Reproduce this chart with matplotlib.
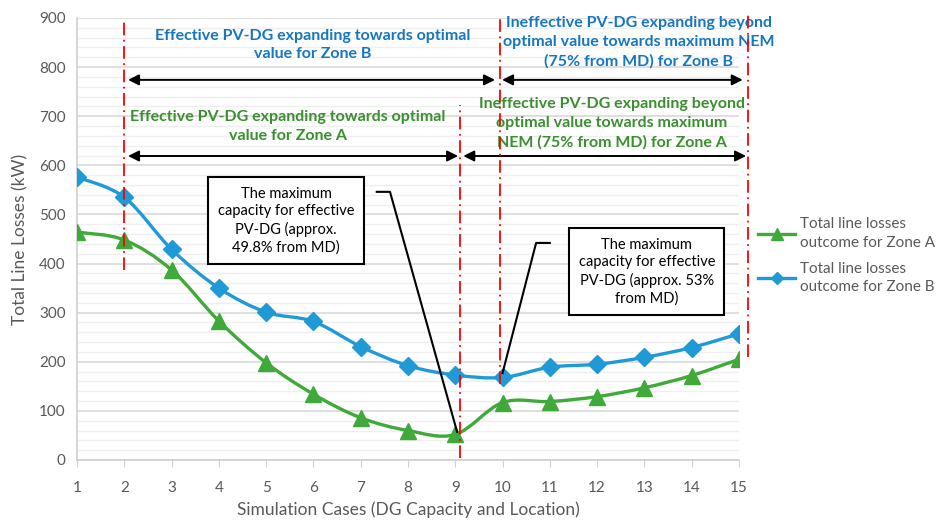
import numpy as np
import matplotlib
matplotlib.use("Agg")
import matplotlib.pyplot as plt
from matplotlib.path import Path
from matplotlib.patches import PathPatch
from matplotlib.lines import Line2D

plt.rcParams['font.family'] = ['Lato', 'DejaVu Sans']

# data
cases = list(range(1, 16))
zone_a = [464, 448, 387, 283, 198, 134, 86, 60, 52, 117, 119, 129, 147, 172, 205]
zone_b = [576, 535, 429, 350, 301, 282, 231, 192, 173, 168, 189, 195, 209, 229, 257]

label_a = "Total line losses\noutcome for Zone A"
label_b = "Total line losses\noutcome for Zone B"

GREEN = '#3FA93A'
BLUE = '#1F9AD6'
GREEN_TXT = '#3A8F2E'
BLUE_TXT = '#1677BF'
GRAY = '#595959'


def smooth_path(x, y):
    # excel-like smoothed line: cubic bezier segments (catmull-rom control points)
    pts = np.column_stack([x, y]).astype(float)
    n = len(pts)
    verts = [pts[0]]
    codes = [Path.MOVETO]
    for i in range(n - 1):
        p0 = pts[i - 1] if i > 0 else pts[i]
        p1 = pts[i]
        p2 = pts[i + 1]
        p3 = pts[i + 2] if i + 2 < n else pts[i + 1]
        c1 = p1 + (p2 - p0) / 6.0
        c2 = p2 - (p3 - p1) / 6.0
        verts += [c1, c2, p2]
        codes += [Path.CURVE4] * 3
    return Path(verts, codes)


fig = plt.figure(figsize=(9.41, 5.2), dpi=100)
ax = fig.add_axes([0.0818, 0.1154, 0.7035, 0.85])

ax.set_xlim(1, 15)
ax.set_ylim(0, 900)
ax.set_xticks(cases)
ax.set_yticks(range(0, 901, 100))
ax.set_yticks(range(0, 901, 20), minor=True)
ax.grid(which='major', axis='y', color='#d9d9d9', lw=1.2)
ax.grid(which='minor', axis='y', color='#efefef', lw=1.0)
ax.set_axisbelow(True)
for s in ['top', 'right']:
    ax.spines[s].set_visible(False)
for s in ['left', 'bottom']:
    ax.spines[s].set_color('#d0d0d0')
    ax.spines[s].set_linewidth(1.2)
ax.tick_params(axis='y', which='both', length=0, labelsize=11, labelcolor=GRAY, pad=8)
ax.tick_params(axis='x', which='major', length=5, color='#d0d0d0', labelsize=11,
               labelcolor=GRAY, pad=10)
ax.tick_params(axis='x', which='minor', length=0)
ax.set_xlabel("Simulation Cases (DG Capacity and Location)", fontsize=12.5, color=GRAY, labelpad=5)
ax.set_ylabel("Total Line Losses (kW)", fontsize=12.5, color=GRAY, labelpad=8)

# smoothed series
ax.add_patch(PathPatch(smooth_path(cases, zone_a), fill=False, edgecolor=GREEN, lw=2.4, zorder=3))
ax.add_patch(PathPatch(smooth_path(cases, zone_b), fill=False, edgecolor=BLUE, lw=2.4, zorder=3))
ax.plot(cases, zone_a, ls='none', marker='^', ms=11, color=GREEN, zorder=4)
ax.plot(cases, zone_b, ls='none', marker='D', ms=9, color=BLUE, zorder=4)

# red dash-dot boundaries
for xv, y0, y1 in [(2, 387, 892), (9.1, 5, 723), (9.94, 155, 898), (15.19, 210, 910)]:
    ax.plot([xv, xv], [y0, y1], color='red', lw=1.3, ls=(0, (7, 2.5, 1, 2.5)),
            clip_on=False, zorder=5)

# range arrows
arrow = dict(arrowstyle='<|-|>', color='black', lw=1.4, mutation_scale=16, shrinkA=0, shrinkB=0)
ax.annotate('', xy=(2.08, 774), xytext=(9.84, 774), arrowprops=arrow, annotation_clip=False)
ax.annotate('', xy=(9.99, 774), xytext=(15.08, 774), arrowprops=arrow, annotation_clip=False)
ax.annotate('', xy=(2.08, 619), xytext=(9.06, 619), arrowprops=arrow, annotation_clip=False)
ax.annotate('', xy=(9.17, 619), xytext=(15.15, 619), arrowprops=arrow, annotation_clip=False)

# region captions
cap = dict(ha='center', va='center', fontsize=11.5, fontweight='bold', linespacing=1.45,
           clip_on=False)
ax.text(5.98, 845, "Effective PV-DG expanding towards optimal\nvalue for Zone B",
        color=BLUE_TXT, **cap)
ax.text(5.46, 680, "Effective PV-DG expanding towards optimal\nvalue for Zone A",
        color=GREEN_TXT, **cap)
ax.text(12.88, 851, "Ineffective PV-DG expanding beyond\noptimal value towards maximum NEM\n(75% from MD) for Zone B",
        color=BLUE_TXT, **cap)
ax.text(12.31, 686, "Ineffective PV-DG expanding beyond\noptimal value towards maximum\nNEM (75% from MD) for Zone A",
        color=GREEN_TXT, **cap)

# call-out boxes with leader lines
ax.plot([7.34, 7.62, 9.04], [546, 546, 57], color='black', lw=1.5, zorder=6)
ax.plot([11.0, 10.71, 10.0], [442, 442, 177], color='black', lw=1.5, zorder=6)
box = dict(boxstyle='square,pad=0.65', fc='white', ec='black', lw=1.5)
ax.text(5.42, 487, "The maximum\ncapacity for effective\nPV-DG (approx.\n49.8% from MD)",
        ha='center', va='center', fontsize=10.5, color='black', bbox=box, linespacing=1.3, zorder=7)
ax.text(13.05, 384, "The maximum\ncapacity for effective\nPV-DG (approx. 53%\nfrom MD)",
        ha='center', va='center', fontsize=10.5, color='black', bbox=box, linespacing=1.3, zorder=7)

# legend
handles = [Line2D([], [], color=GREEN, lw=2.4, marker='^', ms=8),
           Line2D([], [], color=BLUE, lw=2.4, marker='D', ms=6)]
leg = fig.legend(handles, [label_a, label_b], loc='center left', bbox_to_anchor=(0.806, 0.508),
                 frameon=False, fontsize=11, labelcolor=GRAY, handlelength=2.4, handletextpad=0.3,
                 labelspacing=0.8, borderaxespad=0, borderpad=0)
for t in leg.get_texts():
    t.set_linespacing(1.4)

fig.savefig("out.png", dpi=100)
